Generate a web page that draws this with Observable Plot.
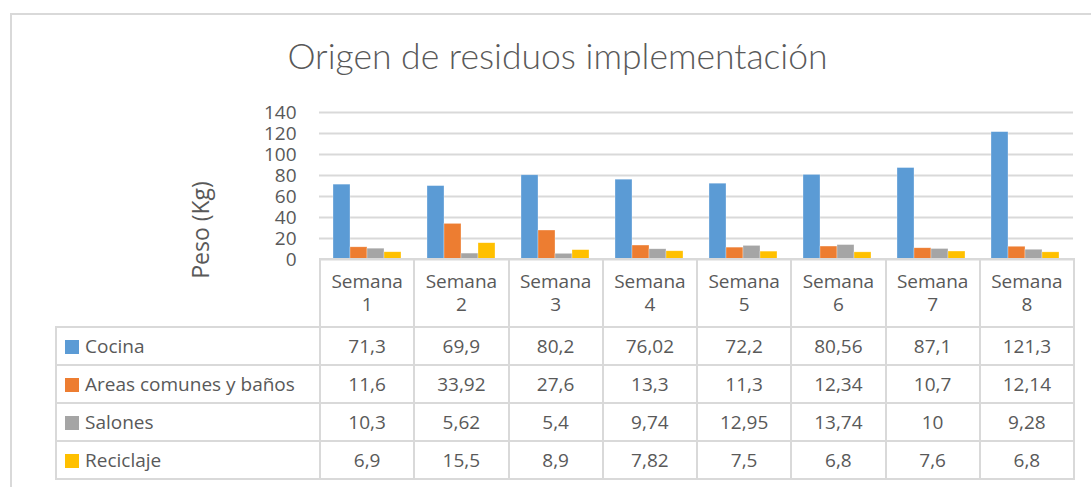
<!DOCTYPE html>
<html>
<head>
<meta charset="utf-8">
<script src="https://cdn.jsdelivr.net/npm/d3@7"></script>
<script src="https://cdn.jsdelivr.net/npm/@observablehq/plot@0.6"></script>
<style>
  html, body { margin: 0; padding: 0; background: #fff; }
  #wrap { position: relative; width: 1091px; height: 487px; overflow: hidden; font-family: "Open Sans", Lato, sans-serif; color: #595959; }
  #frame { position: absolute; left: 10px; top: 13px; width: 1200px; height: 600px; border: 2px solid #d9d9d9; box-sizing: border-box; }
  #title { position: absolute; left: 0; width: 1091px; top: 33px; text-align: center; font-family: Lato, "Open Sans", sans-serif; font-size: 35.5px; font-weight: 300; line-height: 46px; padding-left: 24px; box-sizing: border-box; }
  #ylab { position: absolute; left: 200px; top: 230px; transform: translate(-50%, -50%) rotate(-90deg); font-size: 23px; white-space: nowrap; line-height: 28px; }
  .layer { position: absolute; left: 0; top: 100px; }
  #tbl { position: absolute; left: 55px; top: 258px; border-collapse: collapse; table-layout: fixed; font-size: 19px; color: #595959; }
  #tbl td { border: 2px solid #d9d9d9; padding: 0; text-align: center; white-space: nowrap; overflow: hidden; }
  #tbl tr.head td { height: 66px; line-height: 23px; vertical-align: middle; }
  #tbl tr.head td.blank { border-top: none; border-left: none; }
  #tbl tr.row td { height: 36px; line-height: 36px; }
  #tbl td.lab { text-align: left; padding-left: 8px; }
  .sw { display: inline-block; width: 14px; height: 14px; margin-right: 6px; vertical-align: -1px; }
</style>
</head>
<body>
<div id="wrap">
  <div id="frame"></div>
  <div id="title">Origen de residuos implementación</div>
  <div id="gridLayer" class="layer"></div>
  <div id="barLayer" class="layer"></div>
  <div id="ylab">Peso (Kg)</div>
  <table id="tbl"></table>
</div>
<script>
const weeks = ["Semana 1", "Semana 2", "Semana 3", "Semana 4", "Semana 5", "Semana 6", "Semana 7", "Semana 8"];
const series = ["Cocina", "Areas comunes y baños", "Salones", "Reciclaje"];
const colors = ["#5B9BD5", "#ED7D31", "#A5A5A5", "#FFC000"];
const cocina = [71.3, 69.9, 80.2, 76.02, 72.2, 80.56, 87.1, 121.3];
const areas = [11.6, 33.92, 27.6, 13.3, 11.3, 12.34, 10.7, 12.14];
const salones = [10.3, 5.62, 5.4, 9.74, 12.95, 13.74, 10, 9.28];
const reciclaje = [6.9, 15.5, 8.9, 7.82, 7.5, 6.8, 7.6, 6.8];
const yTicks = [0, 20, 40, 60, 80, 100, 120, 140];

const values = [cocina, areas, salones, reciclaje];
const data = [];
weeks.forEach((w, i) => series.forEach((s, j) => data.push({week: w, series: s, value: values[j][i]})));

const W = 1091, H = 162;
const M = {marginLeft: 319, marginRight: 18, marginTop: 12, marginBottom: 3};

const gridPlot = Plot.plot({
  width: W, height: H, ...M,
  style: {fontFamily: "'Open Sans', Lato, sans-serif", fontSize: "19px", color: "#595959", background: "transparent", overflow: "visible"},
  y: {domain: [0, 140]},
  marks: [
    Plot.gridY(yTicks, {stroke: "#d9d9d9", strokeOpacity: 1, strokeWidth: 2}),
    Plot.axisY(yTicks, {tickSize: 0, tickPadding: 23, label: null, fill: "#595959"})
  ]
});
document.getElementById("gridLayer").appendChild(gridPlot);

const barPlot = Plot.plot({
  width: W, height: H, ...M,
  style: {background: "transparent"},
  fx: {domain: weeks, paddingInner: 0.277, paddingOuter: 0.138, axis: null, label: null},
  x: {domain: series, padding: 0, axis: null},
  y: {domain: [0, 140], axis: null},
  color: {domain: series, range: colors},
  marks: [
    Plot.barY(data, {fx: "week", x: "series", y: "value", fill: "series", stroke: "#ffffff", strokeWidth: 0.6, strokeOpacity: 0.5})
  ]
});
document.getElementById("barLayer").appendChild(barPlot);

// data table
const fmt = v => String(v).replace(".", ",");
const tbl = document.getElementById("tbl");
const colg = document.createElement("colgroup");
colg.innerHTML = `<col style="width:264px">` + weeks.map(() => `<col style="width:94.25px">`).join("");
tbl.appendChild(colg);
const head = document.createElement("tr");
head.className = "head";
head.innerHTML = `<td class="blank"></td>` + weeks.map(w => {
  const [a, b] = w.split(" ");
  return `<td>${a}<br>${b}</td>`;
}).join("");
tbl.appendChild(head);
series.forEach((s, j) => {
  const tr = document.createElement("tr");
  tr.className = "row";
  tr.innerHTML = `<td class="lab"><span class="sw" style="background:${colors[j]}"></span>${s}</td>` +
    values[j].map(v => `<td>${fmt(v)}</td>`).join("");
  tbl.appendChild(tr);
});
</script>
</body>
</html>
